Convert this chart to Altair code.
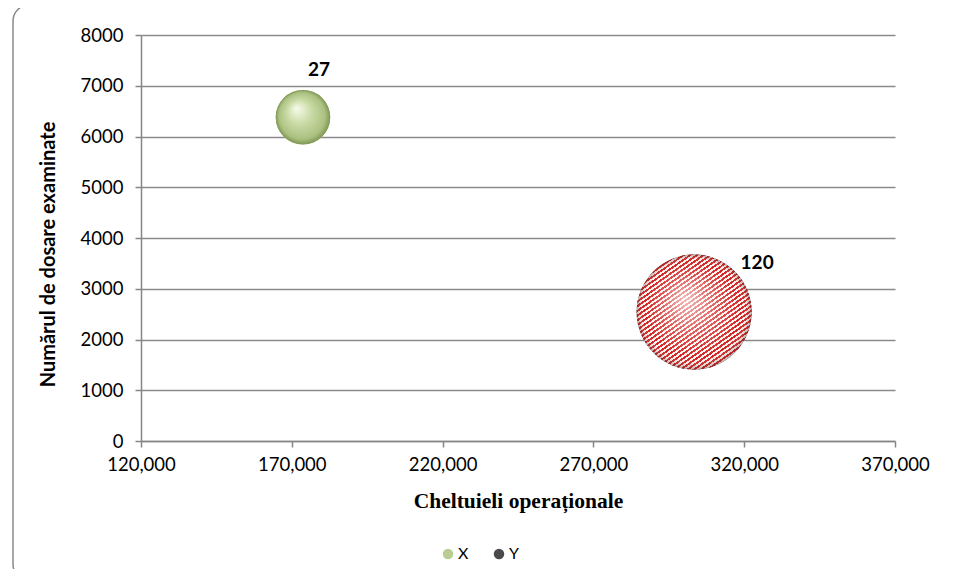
import altair as alt
import pandas as pd

# data
series = ["X", "Y"]
cheltuieli = [173700, 303400]
dosare = [6380, 2540]
marime = [27, 120]

df = pd.DataFrame({"serie": series, "x": cheltuieli, "y": dosare, "m": marime})

W, H = 754, 406
PL, PT, PR, PB = 133, 27, 51, 128

green_grad = alt.RadialGradient(
    gradient="radial", x1=0.38, y1=0.33, r1=0.0, x2=0.5, y2=0.5, r2=0.5,
    stops=[
        alt.GradientStop(offset=0, color="#f7fbec"),
        alt.GradientStop(offset=0.45, color="#cadba6"),
        alt.GradientStop(offset=0.85, color="#aac080"),
        alt.GradientStop(offset=1, color="#7f9552"),
    ],
)

# diagonal stripes (style only)
stops = []
n = 30
for i in range(n):
    a = i / n
    b = (i + 0.5) / n
    c = (i + 1) / n
    stops += [
        alt.GradientStop(offset=a, color="#d42424"),
        alt.GradientStop(offset=b - 0.0001, color="#d42424"),
        alt.GradientStop(offset=b, color="#fff3ef"),
        alt.GradientStop(offset=c - 0.0001, color="#fff3ef"),
    ]
stripe_grad = alt.LinearGradient(
    gradient="linear", x1=0.213, y1=0.09, x2=0.787, y2=0.91, stops=stops
)
shade_grad = alt.RadialGradient(
    gradient="radial", x1=0.42, y1=0.38, r1=0.0, x2=0.5, y2=0.5, r2=0.5,
    stops=[
        alt.GradientStop(offset=0, color="rgba(255,255,255,0.7)"),
        alt.GradientStop(offset=0.5, color="rgba(255,255,255,0.25)"),
        alt.GradientStop(offset=0.85, color="rgba(255,255,255,0)"),
        alt.GradientStop(offset=1, color="rgba(60,20,20,0.35)"),
    ],
)

xs = alt.Scale(domain=[120000, 370000], nice=False, zero=False)
ys = alt.Scale(domain=[0, 8000], nice=False)
ss = alt.Scale(domain=[0, 120], range=[0, 13225], zero=True)

xaxis = alt.Axis(
    values=[120000, 170000, 220000, 270000, 320000, 370000], format=",d",
    grid=False, labelFlush=False, title="Cheltuieli operaționale", titleFont="Liberation Serif",
    titleFontSize=21.5, titleFontWeight="bold", titleColor="black", titlePadding=17,
    labelFont="Lato", labelFontSize=18.5, labelColor="black", labelPadding=8,
    tickSize=6, tickColor="#868686", domainColor="#868686", tickWidth=1.5, domainWidth=1.5,
)
yaxis = alt.Axis(
    values=list(range(0, 8001, 1000)), format="d",
    grid=True, gridColor="#8a8a8a", gridWidth=1.5, labelFlush=False,
    title="Numărul de dosare examinate", titleFont="Lato", titleFontSize=20,
    titleFontWeight="bold", titleColor="black", titlePadding=22, titleY=219,
    labelFont="Lato", labelFontSize=18.5, labelColor="black", labelPadding=12,
    tickSize=6, tickColor="#868686", domainColor="#868686", tickWidth=1.5, domainWidth=1.5,
)

base = alt.Chart(df)
X = alt.X("x:Q", scale=xs, axis=xaxis)
Y = alt.Y("y:Q", scale=ys, axis=yaxis)
S = alt.Size("m:Q", scale=ss, legend=None)

border = base.transform_filter(alt.datum.serie == "X").mark_rect(
    fill="white", fillOpacity=0, stroke="#8a8a8a", strokeWidth=1.5, cornerRadius=16
).encode(
    x=alt.value(-128), x2=alt.value(816), y=alt.value(-30), y2=alt.value(545)
)

points = base.mark_circle(opacity=1).encode(
    x=X, y=Y, size=S,
    color=alt.Color(
        "serie:N",
        scale=alt.Scale(domain=series, range=["#b9cc94", "#4a4a4a"]),
        legend=alt.Legend(
            title=None, orient="none", direction="horizontal", legendX=299, legendY=511,
            labelFont="Lato", labelFontSize=16, labelColor="black", symbolSize=110,
            columnPadding=22, labelOffset=2,
        ),
    ),
)

green = base.transform_filter(alt.datum.serie == "X").mark_circle(
    fill=green_grad, opacity=1
).encode(x=X, y=Y, size=S)
striped = base.transform_filter(alt.datum.serie == "Y").mark_circle(
    fill=stripe_grad, opacity=1
).encode(x=X, y=Y, size=S)
shade = base.transform_filter(alt.datum.serie == "Y").mark_circle(
    fill=shade_grad, opacity=1
).encode(x=X, y=Y, size=S)

lab_x = base.transform_filter(alt.datum.serie == "X").mark_text(
    font="Lato", fontSize=19, fontWeight="bold", color="black", dx=16, dy=-47
).encode(x=X, y=Y, text="m:Q")
lab_y = base.transform_filter(alt.datum.serie == "Y").mark_text(
    font="Lato", fontSize=19, fontWeight="bold", color="black", dx=63, dy=-49
).encode(x=X, y=Y, text="m:Q")

chart = alt.layer(points, green, striped, shade, lab_x, lab_y, border).properties(
    width=W, height=H,
    autosize=alt.AutoSizeParams(type="none"),
    padding={"left": PL, "top": PT, "right": PR, "bottom": PB},
    background="white",
).configure_view(stroke=None)

chart.save("out.html", embed_options={"renderer": "svg", "actions": False})
